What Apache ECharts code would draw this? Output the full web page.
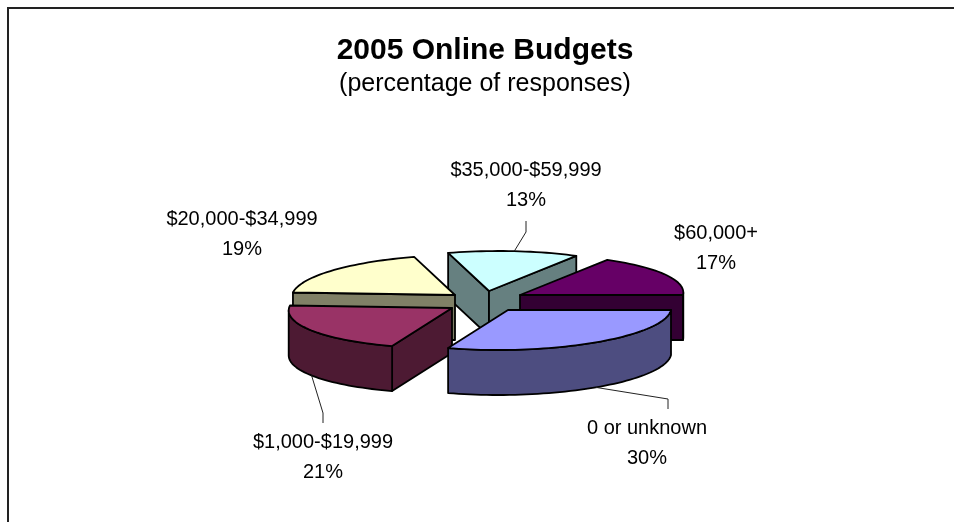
<!DOCTYPE html>
<html>
<head>
<meta charset="utf-8">
<style>html,body{margin:0;padding:0;background:#fff}#chart{width:954px;height:522px}</style>
<script src="https://cdn.jsdelivr.net/npm/echarts@6/dist/echarts.min.js"></script>
</head>
<body>
<div id="chart"></div>
<script>
// Budget bands and their share of responses, clockwise from three o'clock.
const categories = ['0 or unknown', '$1,000-$19,999', '$20,000-$34,999', '$35,000-$59,999', '$60,000+'];
const shares = [30, 21, 19, 13, 17];

// Face colours: top surface and shaded side.
const topColors = ['#9999FF', '#993366', '#FFFFCC', '#CCFFFF', '#660066'];
const sideColors = ['#4D4D80', '#4D1A33', '#808066', '#668080', '#330033'];

// Exploded wedges: pull of each wedge away from the pie centre, in pixels.
const explode = [[28, 10], [-28, 8], [-25, -5], [9, -9], [40, -5]];
// Back-to-front paint order of the wedges.
const paintOrder = [3, 2, 4, 1, 0];
// Label anchors, and the elbow and end of each leader line (null when none is drawn).
const labelCenters = [[647, 443], [323, 457], [242, 234], [526, 185], [716, 248]];
const leaderBends = [[[668, 399], [668, 409]], [[323, 413], [323, 423]], null, [[526, 232], [526, 221]], null];

// Projection of the tilted pie.
const pie = { cx: 480, cy: 300, rx: 163, ry: 40, shear: 10, depth: 45, startAngle: 90 };
const LABEL_FONT = '"Liberation Sans", Arial, sans-serif';

const total = shares.reduce((a, b) => a + b, 0);
const sweeps = [];
shares.reduce((acc, v, i) => {
  const next = acc + v;
  sweeps[i] = [
    pie.startAngle + echarts.number.linearMap(acc, [0, total], [0, 360]),
    pie.startAngle + echarts.number.linearMap(next, [0, total], [0, 360])
  ];
  return next;
}, 0);

// Offset from a wedge's apex to the point on its rim at a clockwise-from-north angle.
function rimOffset(deg) {
  const t = deg * Math.PI / 180;
  return [pie.rx * Math.sin(t) + pie.shear * Math.cos(t), -pie.ry * Math.cos(t)];
}
function rimPoints(apex, from, to, dy) {
  const pts = [];
  const n = Math.max(2, Math.ceil(Math.abs(to - from) / 2));
  for (let k = 0; k <= n; k++) {
    const o = rimOffset(from + (to - from) * k / n);
    pts.push([apex[0] + o[0], apex[1] + o[1] + dy]);
  }
  return pts;
}
// A radial wall faces the viewer when the wedge interior lies above its top edge.
function wallVisible(edge, mid) {
  const crossDown = edge[0];
  const crossMid = edge[0] * mid[1] - edge[1] * mid[0];
  return crossDown * crossMid < 0;
}

const strokeStyle = { stroke: '#000', lineWidth: 1.8, lineJoin: 'round' };

function renderWedge(params, api) {
  const i = api.value(0);
  const [a0, a1] = sweeps[i];
  const apex = [pie.cx + explode[i][0], pie.cy + explode[i][1]];
  const children = [];
  const midAngle = (a0 + a1) / 2;
  const mid = rimOffset(midAngle);
  const side = sideColors[i];

  // Radial walls.
  [a0, a1].forEach(a => {
    const e = rimOffset(a);
    if (wallVisible(e, mid)) {
      children.push({
        type: 'polygon',
        shape: { points: [apex, [apex[0] + e[0], apex[1] + e[1]], [apex[0] + e[0], apex[1] + e[1] + pie.depth], [apex[0], apex[1] + pie.depth]] },
        style: Object.assign({ fill: side }, strokeStyle)
      });
    }
  });

  // Outer rim: only the part turned toward the viewer.
  const silhouette = Math.atan2(pie.rx, pie.shear) * 180 / Math.PI;
  [0, 360].forEach(turn => {
    const from = Math.max(a0, silhouette + turn);
    const to = Math.min(a1, silhouette + 180 + turn);
    if (to > from) {
      const upper = rimPoints(apex, from, to, 0);
      const lower = rimPoints(apex, from, to, pie.depth).reverse();
      children.push({
        type: 'polygon',
        shape: { points: upper.concat(lower) },
        style: Object.assign({ fill: side }, strokeStyle)
      });
    }
  });

  // Top surface.
  children.push({
    type: 'polygon',
    shape: { points: [apex].concat(rimPoints(apex, a0, a1, 0)) },
    style: Object.assign({ fill: topColors[i] }, strokeStyle)
  });

  return { type: 'group', children };
}

// Labels and leader lines sit above every wedge.
function renderLabel(params, api) {
  const i = api.value(0);
  const [a0, a1] = sweeps[i];
  const apex = [pie.cx + explode[i][0], pie.cy + explode[i][1]];
  const m = (a0 + a1) / 2;
  const o = rimOffset(m);
  const front = Math.cos(m * Math.PI / 180) < 0;
  const anchor = [apex[0] + o[0], apex[1] + o[1] + (front ? pie.depth : 0)];
  const children = [];
  if (leaderBends[i]) {
    children.push({
      type: 'polyline',
      shape: { points: [anchor].concat(leaderBends[i]) },
      style: { stroke: '#222', lineWidth: 1, fill: null }
    });
  }
  children.push({
    type: 'text',
    x: labelCenters[i][0],
    y: labelCenters[i][1],
    style: {
      text: categories[i] + '\n' + api.value(1) + '%',
      fontFamily: LABEL_FONT,
      fontSize: 20,
      lineHeight: 30,
      fill: '#000',
      align: 'center',
      verticalAlign: 'middle'
    }
  });
  return { type: 'group', children };
}

const chart = echarts.init(document.getElementById('chart'), null, { renderer: 'canvas' });
chart.setOption({
  animation: false,
  backgroundColor: '#fff',
  title: {
    text: '2005 Online Budgets',
    subtext: '(percentage of responses)',
    left: 480,
    top: 31,
    textAlign: 'center',
    itemGap: 6,
    textStyle: { fontFamily: LABEL_FONT, fontSize: 30, fontWeight: 'bold', color: '#000' },
    subtextStyle: { fontFamily: LABEL_FONT, fontSize: 25, color: '#000' }
  },
  graphic: [
    { type: 'polyline', silent: true, shape: { points: [[8, 522], [8, 8], [954, 8]] }, style: { stroke: '#222', lineWidth: 2, fill: null } }
  ],
  series: [
    {
      type: 'custom',
      name: 'Online budgets',
      coordinateSystem: 'none',
      silent: true,
      renderItem: renderWedge,
      data: paintOrder.map(i => [i, shares[i]])
    },
    {
      type: 'custom',
      name: 'Labels',
      coordinateSystem: 'none',
      silent: true,
      z: 3,
      renderItem: renderLabel,
      data: shares.map((v, i) => [i, v])
    }
  ]
});
</script>
</body>
</html>
